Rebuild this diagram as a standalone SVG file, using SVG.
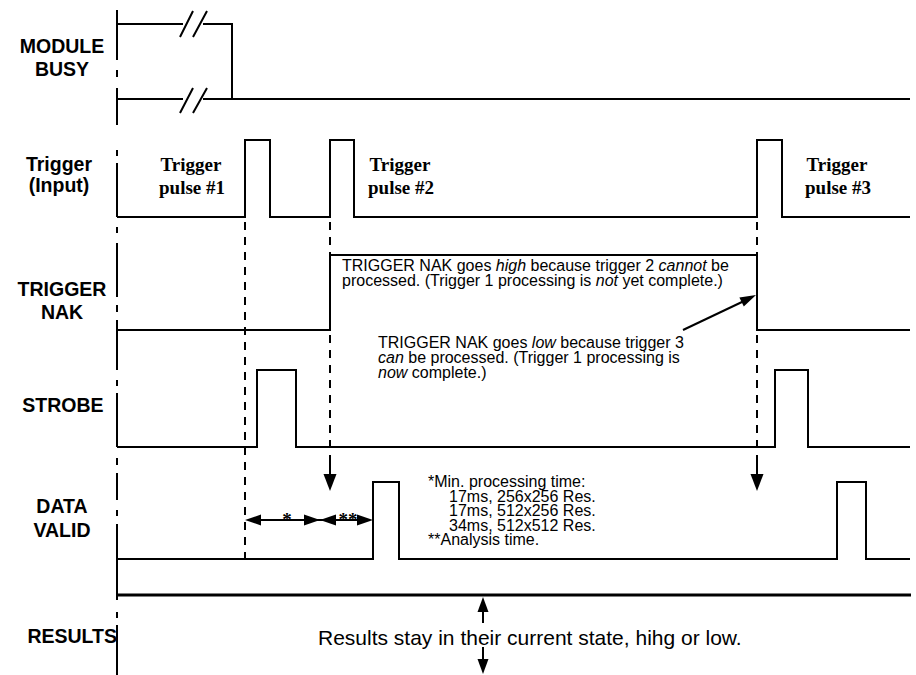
<svg xmlns="http://www.w3.org/2000/svg" width="916" height="675" viewBox="0 0 916 675">
<style>
.sig{fill:none;stroke:#000;stroke-width:2;stroke-linejoin:miter}
.ax{stroke:#000;stroke-width:2}
.dash{stroke:#000;stroke-width:2;stroke-dasharray:8 7}
.lbl{font-family:"Liberation Sans",Arial,sans-serif;font-weight:bold;font-size:19.5px;fill:#000}
.pl{font-family:"Liberation Serif","Times New Roman",serif;font-weight:bold;font-size:19px;fill:#000;text-anchor:middle}
.note{font-family:"Liberation Sans",Arial,sans-serif;font-size:16px;fill:#000}
.it{font-style:italic}
.ah{fill:#000;stroke:none}
</style>
<rect width="916" height="675" fill="#fff"/>
<g id="axis">
<path class="ax" d="M117,10V60M117,70V77M117,88V125M117,150V156M117,163V217M117,227V233M117,243V297M117,305V312M117,320V370M117,380V386M117,393V447M117,458V465M117,473V500M117,510V516M117,524V600M117,612V618M117,625V675"/>
</g>
<g id="module-busy">
<text class="lbl" x="62" y="53" text-anchor="middle">MODULE</text>
<text class="lbl" x="62" y="76" text-anchor="middle">BUSY</text>
<polyline class="sig" points="117,24 183,24"/>
<polyline class="sig" points="203,24 232,24 232,99"/>
<polyline class="sig" points="117,99 183,99"/>
<polyline class="sig" points="203,99 910,99"/>
<path class="sig" d="M180,37L193,11M193,37L207,11M180,113L193,88M193,113L207,88"/>
</g>
<g id="trigger">
<text class="lbl" x="59" y="171" text-anchor="middle">Trigger</text>
<text class="lbl" x="59" y="192" text-anchor="middle">(Input)</text>
<polyline class="sig" points="117,217 245,217 245,140 270,140 270,217 330,217 330,140 354,140 354,217 757,217 757,140 782,140 782,217 910,217"/>
<text class="pl" x="191" y="171">Trigger</text>
<text class="pl" x="192" y="194">pulse #1</text>
<text class="pl" x="400" y="171">Trigger</text>
<text class="pl" x="401" y="194">pulse #2</text>
<text class="pl" x="837" y="171">Trigger</text>
<text class="pl" x="838" y="194">pulse #3</text>
</g>
<g id="trigger-nak">
<text class="lbl" x="62" y="296" text-anchor="middle">TRIGGER</text>
<text class="lbl" x="62" y="319" text-anchor="middle">NAK</text>
<polyline class="sig" points="117,330 330,330 330,255 757,255 757,330 910,330"/>
<text class="note" x="342" y="271">TRIGGER NAK goes <tspan class="it">high</tspan> because trigger 2 <tspan class="it">cannot</tspan> be</text>
<text class="note" x="342" y="285.5">processed. (Trigger 1 processing is <tspan class="it">not</tspan> yet complete.)</text>
<text class="note" x="378" y="347.5">TRIGGER NAK goes <tspan class="it">low</tspan> because trigger 3</text>
<text class="note" x="378" y="362.5"><tspan class="it">can</tspan> be processed. (Trigger 1 processing is</text>
<text class="note" x="378" y="377.5"><tspan class="it">now</tspan> complete.)</text>
</g>
<g id="strobe">
<text class="lbl" x="63" y="412" text-anchor="middle">STROBE</text>
<polyline class="sig" points="117,447 257,447 257,370 296,370 296,447 775,447 775,370 808,370 808,447 910,447"/>
</g>
<g id="data-valid">
<text class="lbl" x="62" y="513" text-anchor="middle">DATA</text>
<text class="lbl" x="62" y="537" text-anchor="middle">VALID</text>
<polyline class="sig" points="117,559 373,559 373,482 399,482 399,559 837,559 837,482 866,482 866,559 910,559"/>
<text class="note" x="428" y="487">*Min. processing time:</text>
<text class="note" x="449" y="501.5">17ms, 256x256 Res.</text>
<text class="note" x="449" y="516">17ms, 512x256 Res.</text>
<text class="note" x="449" y="530.5">34ms, 512x512 Res.</text>
<text class="note" x="428" y="545">**Analysis time.</text>
<text class="pl" x="287" y="526" font-weight="normal" fill="#333">*</text>
<text class="pl" x="348" y="526" font-weight="normal" fill="#333">**</text>
</g>
<g id="results">
<text class="lbl" x="117" y="643" text-anchor="end">RESULTS</text>
<line x1="117" y1="595" x2="911" y2="595" stroke="#000" stroke-width="3"/>
<text class="note" x="318" y="645" style="font-size:21px">Results stay in their current state, hihg or low.</text>
</g>
<g id="connectors">
<line class="dash" x1="245" y1="222" x2="245" y2="559"/>
<line class="dash" x1="330" y1="222" x2="330" y2="255"/>
<line class="dash" x1="330" y1="335" x2="330" y2="460"/>
<line class="ax" x1="330" y1="460" x2="330" y2="476"/>
<polygon class="ah" points="323.5,474 336.5,474 330,491"/>
<line class="dash" x1="757" y1="222" x2="757" y2="255"/>
<line class="dash" x1="757" y1="335" x2="757" y2="460"/>
<line class="ax" x1="757" y1="460" x2="757" y2="476"/>
<polygon class="ah" points="750.5,474 763.5,474 757,491"/>
<line class="ax" x1="683" y1="330" x2="743" y2="301.5"/>
<polygon class="ah" points="756,295 743.8,306.4 739.4,297.4"/>
<line class="ax" x1="250" y1="520" x2="368" y2="520"/>
<polygon class="ah" points="245,520 261,514.5 261,525.5"/>
<polygon class="ah" points="320,520 304,514.5 304,525.5"/>
<polygon class="ah" points="320,520 336,514.5 336,525.5"/>
<polygon class="ah" points="373,520 357,514.5 357,525.5"/>
<line class="ax" x1="483" y1="610" x2="483" y2="623"/>
<polygon class="ah" points="483,597 477.5,612 488.5,612"/>
<line class="ax" x1="483" y1="647" x2="483" y2="661"/>
<polygon class="ah" points="477.5,659 488.5,659 483,674"/>
</g>
</svg>
